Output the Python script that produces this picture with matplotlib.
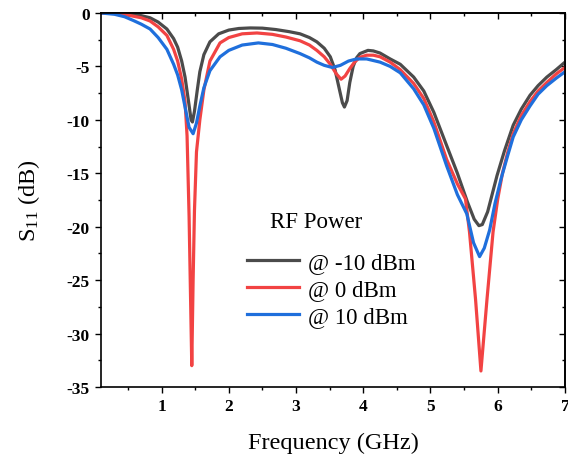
import matplotlib
matplotlib.use('Agg')
import matplotlib.pyplot as plt
from matplotlib.ticker import MultipleLocator

plt.rcParams['font.family'] = ['Liberation Serif', 'DejaVu Serif']
plt.rcParams['mathtext.fontset'] = 'custom'
plt.rcParams['mathtext.rm'] = 'Liberation Serif'
plt.rcParams['mathtext.it'] = 'Liberation Serif:italic'
plt.rcParams['axes.unicode_minus'] = False

# частота (ГГц) і S11 (дБ)
f_m10 = [0.10, 0.30, 0.50, 0.70, 0.83, 0.95, 1.08, 1.18, 1.24, 1.30, 1.35, 1.40, 1.44, 1.46,
         1.49, 1.53, 1.57, 1.63, 1.72, 1.85, 2.00, 2.15, 2.32, 2.50, 2.70, 2.90, 3.06,
         3.20, 3.31, 3.42, 3.51, 3.58, 3.64, 3.69, 3.72, 3.76, 3.80, 3.85, 3.90, 3.95,
         4.07, 4.15, 4.25, 4.40, 4.55, 4.75, 4.90, 5.05, 5.24, 5.40, 5.55, 5.65, 5.72,
         5.77, 5.85, 5.99, 6.10, 6.23, 6.35, 6.48, 6.60, 6.73, 6.87, 7.00]
s_m10 = [0.0, -0.02, -0.1, -0.25, -0.45, -0.85, -1.5, -2.4, -3.2, -4.5, -6.0, -8.2, -10.0, -10.2,
         -9.2, -7.3, -5.5, -3.9, -2.7, -1.95, -1.6, -1.45, -1.4, -1.42, -1.55, -1.75, -1.95,
         -2.3, -2.7, -3.3, -4.1, -5.3, -7.0, -8.4, -8.8, -8.2, -6.5, -5.0, -4.2, -3.8,
         -3.5, -3.55, -3.75, -4.3, -4.8, -6.0, -7.3, -9.3, -12.4, -15.0, -17.7, -19.3, -19.9,
         -19.8, -18.6, -15.2, -12.9, -10.5, -9.0, -7.7, -6.8, -6.0, -5.3, -4.6]

f_0 = [0.10, 0.30, 0.50, 0.70, 0.83, 0.95, 1.08, 1.18, 1.24, 1.30, 1.35, 1.38, 1.41, 1.43, 1.45,
       1.47, 1.49, 1.52, 1.57, 1.63, 1.72, 1.87, 2.00, 2.20, 2.42, 2.65, 2.85, 3.06, 3.20,
       3.31, 3.42, 3.51, 3.60, 3.67, 3.73, 3.80, 3.87, 3.95, 4.05, 4.15, 4.25, 4.40, 4.55,
       4.75, 4.90, 5.05, 5.24, 5.40, 5.52, 5.58, 5.67, 5.75, 5.84, 5.93, 6.00, 6.07, 6.15,
       6.23, 6.35, 6.48, 6.60, 6.73, 6.87, 7.00]
s_0 = [0.0, -0.05, -0.2, -0.45, -0.75, -1.3, -2.1, -3.4, -4.5, -6.2, -8.3, -11.5, -19.0, -26.0, -33.0,
       -25.0, -18.5, -13.0, -10.0, -7.2, -4.5, -2.8, -2.3, -1.95, -1.87, -2.0, -2.25, -2.6, -3.0,
       -3.5, -4.1, -4.8, -5.7, -6.2, -5.9, -5.2, -4.6, -4.15, -3.95, -3.95, -4.1, -4.6, -5.3,
       -6.6, -8.0, -10.2, -13.7, -16.0, -17.4, -20.5, -26.8, -33.5, -26.8, -20.5, -17.4, -15.0, -13.0,
       -11.3, -9.6, -8.3, -7.3, -6.5, -5.7, -5.1]

f_p10 = [0.10, 0.30, 0.45, 0.58, 0.70, 0.83, 0.95, 1.08, 1.18, 1.24, 1.30, 1.35, 1.41, 1.47, 1.52,
         1.57, 1.63, 1.72, 1.87, 2.00, 2.20, 2.44, 2.65, 2.85, 3.06, 3.20, 3.31, 3.42, 3.54,
         3.66, 3.78, 3.90, 4.05, 4.15, 4.25, 4.40, 4.55, 4.75, 4.90, 5.05, 5.24, 5.40, 5.54,
         5.64, 5.73, 5.80, 5.88, 5.96, 6.05, 6.15, 6.23, 6.35, 6.48, 6.60, 6.73, 6.87, 7.00]
s_p10 = [0.0, -0.12, -0.35, -0.7, -1.05, -1.5, -2.3, -3.4, -4.8, -5.8, -7.2, -8.8, -10.7, -11.3, -10.3,
         -8.7, -7.0, -5.4, -4.1, -3.5, -3.0, -2.8, -2.95, -3.3, -3.8, -4.2, -4.6, -4.9, -5.1,
         -4.9, -4.5, -4.3, -4.3, -4.45, -4.6, -5.0, -5.6, -7.1, -8.6, -10.8, -14.3, -17.0, -18.8,
         -21.5, -22.8, -22.0, -20.3, -17.8, -15.5, -13.3, -11.6, -10.0, -8.7, -7.6, -6.8, -6.1, -5.5]

labels = ['@ -10 dBm', '@ 0 dBm', '@ 10 dBm']
colors = ['#4b4b4b', '#f24343', '#1f6fdc']

fig = plt.figure(figsize=(5.68, 4.6), dpi=100)
ax = fig.add_axes([0.1778, 0.1565, 0.8169, 0.8131])

for f, s, lab, c in zip([f_m10, f_0, f_p10], [s_m10, s_0, s_p10], labels, colors):
    ax.plot(f, s, color=c, lw=2.3, label=lab, solid_joinstyle='round')

ax.set_xlim(0.1, 7)
ax.set_ylim(-35, 0)
ax.xaxis.set_major_locator(MultipleLocator(1))
ax.xaxis.set_minor_locator(MultipleLocator(0.5))
ax.yaxis.set_major_locator(MultipleLocator(5))
ax.yaxis.set_minor_locator(MultipleLocator(2.5))

ax.tick_params(which='both', direction='out', top=False, right=False, width=1)
ax.tick_params(which='major', length=4.5)
ax.tick_params(which='minor', length=2.5)
ax.tick_params(labelsize=12.5)
for lbl in ax.get_xticklabels() + ax.get_yticklabels():
    lbl.set_fontweight('bold')

# верхні й праві тики всередину
for side in ['top', 'right']:
    sec = ax.secondary_xaxis('top') if side == 'top' else ax.secondary_yaxis('right')
    axis = sec.xaxis if side == 'top' else sec.yaxis
    axis.set_major_locator(MultipleLocator(1 if side == 'top' else 5))
    axis.set_minor_locator(MultipleLocator(0.5 if side == 'top' else 2.5))
    sec.tick_params(which='both', direction='in', labelleft=False, labelright=False,
                    labeltop=False, width=1)
    sec.tick_params(which='major', length=4.5)
    sec.tick_params(which='minor', length=2.5)
    sec.spines[side].set_linewidth(1.2)

for sp in ax.spines.values():
    sp.set_linewidth(1.2)

ax.set_xlabel('Frequency (GHz)', fontsize=17.5, labelpad=13)
ax.set_ylabel('S$_{\\mathrm{11}}$ (dB)', fontsize=17.5, labelpad=18)

ax.text(3.30, -19.5, 'RF Power', fontsize=16.5, ha='center', va='center')
ax.legend(loc='upper left', bbox_to_anchor=(0.291, 0.391), frameon=False, fontsize=16.5,
          handlelength=2.27, handletextpad=0.35, labelspacing=0.25, borderpad=0)

fig.savefig('out.png', dpi=100)
